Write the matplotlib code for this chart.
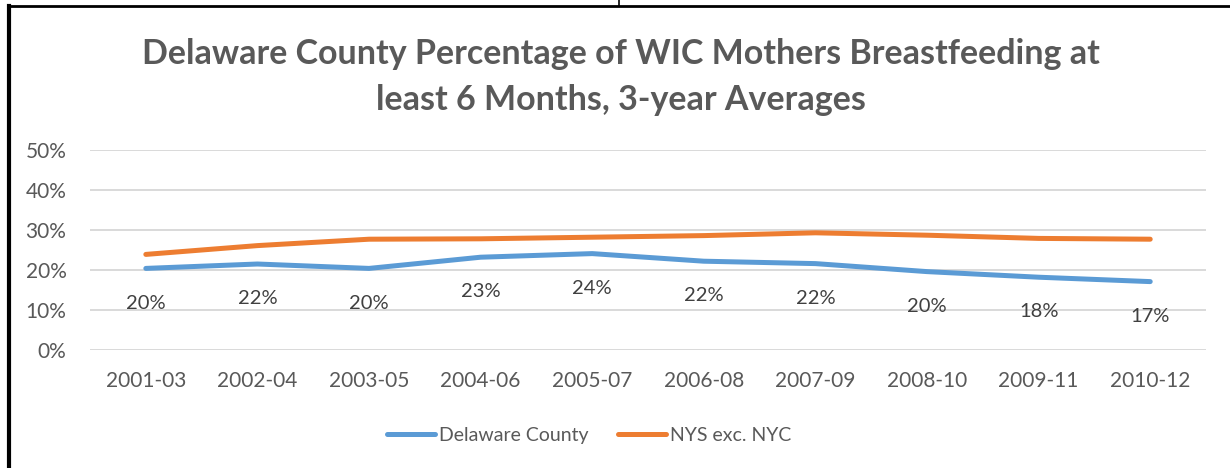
import matplotlib.pyplot as plt
from matplotlib.lines import Line2D
from matplotlib.ticker import PercentFormatter

plt.rcParams['font.family'] = ['Lato', 'DejaVu Sans']

periods = ['2001-03', '2002-04', '2003-05', '2004-06', '2005-07',
           '2006-08', '2007-09', '2008-10', '2009-11', '2010-12']
delaware = [20.4, 21.5, 20.4, 23.2, 24.1, 22.2, 21.6, 19.6, 18.2, 17.1]
nys = [23.9, 26.1, 27.7, 27.8, 28.2, 28.6, 29.3, 28.7, 27.9, 27.7]
labels = ['20%', '22%', '20%', '23%', '24%', '22%', '22%', '20%', '18%', '17%']

blue = '#5B9BD5'
orange = '#ED7D31'
grey = '#595959'

fig = plt.figure(figsize=(12.3, 4.68), dpi=100)
ax = fig.add_axes([0.0732, 0.2521, 0.9073, 0.4274])

x = range(len(periods))
ax.plot(x, delaware, color=blue, lw=3.6, solid_capstyle='round', label='Delaware County', zorder=3)
ax.plot(x, nys, color=orange, lw=3.6, solid_capstyle='round', label='NYS exc. NYC', zorder=3)

for i, (v, t) in enumerate(zip(delaware, labels)):
    ax.annotate(t, (i, v), xytext=(0, -25), textcoords='offset points',
                ha='center', va='center', fontsize=14.5, color='#404040')

ax.set_xlim(-0.5, len(periods) - 0.5)
ax.set_ylim(0, 50)
ax.set_yticks(range(0, 51, 10))
ax.yaxis.set_major_formatter(PercentFormatter(decimals=0))
ax.set_xticks(list(x))
ax.set_xticklabels(periods)
ax.grid(axis='y', color='#D9D9D9', lw=1.4)
ax.set_axisbelow(True)
for s in ax.spines.values():
    s.set_visible(False)
ax.tick_params(length=0, labelsize=15, colors=grey)
ax.tick_params(axis='y', pad=17)
ax.tick_params(axis='x', pad=15)

fig.text(0.505, 0.836, 'Delaware County Percentage of WIC Mothers Breastfeeding at\nleast 6 Months, 3-year Averages',
         ha='center', va='center', fontsize=24.5, fontweight='bold', color=grey, linespacing=1.55)

fig.legend(loc='center', bbox_to_anchor=(0.479, 0.07), ncol=2, frameon=False,
           fontsize=14, labelcolor=grey, handlelength=2.5, handletextpad=0.2,
           columnspacing=1.5)

# page border lines
fig.add_artist(Line2D([9 / 1230, 9 / 1230], [0, 1 - 6 / 468], color='black', lw=3))
fig.add_artist(Line2D([9 / 1230, 1], [1 - 6 / 468, 1 - 6 / 468], color='black', lw=2))
fig.add_artist(Line2D([619 / 1230, 619 / 1230], [1 - 6 / 468, 1], color='black', lw=1.2))

fig.savefig('out.png', dpi=100)
